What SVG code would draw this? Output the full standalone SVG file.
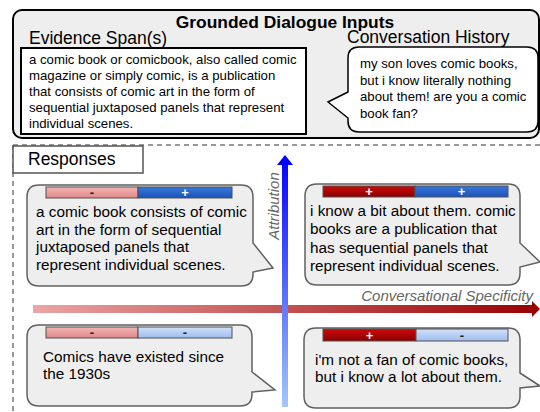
<svg xmlns="http://www.w3.org/2000/svg" width="540" height="412" viewBox="0 0 540 412">
<defs>
<linearGradient id="gLR" x1="0" y1="0" x2="0" y2="1"><stop offset="0" stop-color="#f4b4b4"/><stop offset="1" stop-color="#e08888"/></linearGradient>
<linearGradient id="gB" x1="0" y1="0" x2="0" y2="1"><stop offset="0" stop-color="#3a78dc"/><stop offset="1" stop-color="#1a52b8"/></linearGradient>
<linearGradient id="gDR" x1="0" y1="0" x2="0" y2="1"><stop offset="0" stop-color="#cc0a0a"/><stop offset="1" stop-color="#8c0000"/></linearGradient>
<linearGradient id="gLB" x1="0" y1="0" x2="0" y2="1"><stop offset="0" stop-color="#cfe0fa"/><stop offset="1" stop-color="#9fbdee"/></linearGradient>
<linearGradient id="gV" gradientUnits="userSpaceOnUse" x1="0" y1="155" x2="0" y2="407"><stop offset="0" stop-color="#0000ff"/><stop offset="1" stop-color="#a8c6f6"/></linearGradient>
<linearGradient id="gH" gradientUnits="userSpaceOnUse" x1="33" y1="0" x2="540" y2="0"><stop offset="0" stop-color="#eca4a4"/><stop offset="1" stop-color="#9a0000"/></linearGradient>
</defs>
<style>
text{font-family:"Liberation Sans",Arial,sans-serif;fill:#000}
.bub{fill:#eeeeee;stroke:#606060;stroke-width:1.5}
.bar{stroke:#505050;stroke-width:1}
.sg{font-size:13px;text-anchor:middle;font-weight:bold}
.w{fill:#ffffff}
.d{fill:#222}
.rt{font-size:15.3px}
.ax{font-size:15px;font-style:italic;fill:#666666}
.hd{font-size:17.5px}
</style>

<g id="inputs">
<rect x="13" y="10" width="526" height="128" rx="9" fill="#eeeeee" stroke="#000" stroke-width="2"/>
<text x="285" y="28" font-size="17.4" font-weight="bold" text-anchor="middle">Grounded Dialogue Inputs</text>
</g>

<g id="evidence">
<text class="hd" x="29" y="44">Evidence Span(s)</text>
<rect x="21" y="48" width="285" height="86" fill="#ffffff" stroke="#000" stroke-width="2"/>
<text font-size="13.2">
<tspan x="29" y="64">a comic book or comicbook, also called comic</tspan>
<tspan x="29" y="80">magazine or simply comic, is a publication</tspan>
<tspan x="29" y="96">that consists of comic art in the form of</tspan>
<tspan x="29" y="112">sequential juxtaposed panels that represent</tspan>
<tspan x="29" y="128">individual scenes.</tspan>
</text>
</g>

<g id="history">
<text class="hd" x="347" y="43">Conversation History</text>
<path d="M359,47 H527 Q538,47 538,58 V121 Q538,132 527,132 H359 Q348,132 348,121 V118 L328,102 L348,92 V58 Q348,47 359,47 Z" fill="#ffffff" stroke="#000" stroke-width="1.5"/>
<text font-size="13.2">
<tspan x="360" y="68">my son loves comic books,</tspan>
<tspan x="360" y="84.5">but i know literally nothing</tspan>
<tspan x="360" y="101">about them! are you a comic</tspan>
<tspan x="360" y="117.5">book fan?</tspan>
</text>
</g>

<g id="responses-area">
<path d="M13,145 H540 M13,145 V412" fill="none" stroke="#777" stroke-width="1.5" stroke-dasharray="5,4"/>
<rect x="13" y="146" width="130" height="27" fill="#ffffff" stroke="#555" stroke-width="1.5"/>
<text class="hd" x="28" y="165">Responses</text>
</g>

<g id="connectors">
<rect x="33" y="305" width="500" height="8" fill="url(#gH)"/>
<polygon points="532,301 540,309 532,317" fill="#9a0000"/>
<rect x="282" y="164" width="6" height="243" fill="url(#gV)"/>
<polygon points="277,165 285,155 293,165" fill="#0000ff"/>
<text class="ax" transform="translate(279,206) rotate(-90)" text-anchor="middle">Attribution</text>
<text class="ax" x="533" y="301" text-anchor="end">Conversational Specificity</text>
</g>

<g id="resp-tl">
<path class="bub" d="M39,185 H241 Q253,185 253,197 V243 L273,268 L253,272 V274 Q253,286 241,286 H39 Q27,286 27,274 V197 Q27,185 39,185 Z"/>
<rect class="bar" x="46" y="187" width="92" height="11" fill="url(#gLR)"/>
<rect class="bar" x="138" y="187" width="94" height="11" fill="url(#gB)"/>
<text class="sg d" x="92" y="197">-</text>
<text class="sg w" x="185" y="197">+</text>
<text class="rt">
<tspan x="36" y="217">a comic book consists of comic</tspan>
<tspan x="36" y="234.7">art in the form of sequential</tspan>
<tspan x="36" y="252.3">juxtaposed panels that</tspan>
<tspan x="36" y="270">represent individual scenes.</tspan>
</text>
</g>

<g id="resp-tr">
<path class="bub" d="M317,184 H508 Q520,184 520,196 V243 L540,262 L520,267 V273 Q520,285 508,285 H317 Q305,285 305,273 V196 Q305,184 317,184 Z"/>
<rect class="bar" x="323" y="186" width="92" height="11" fill="url(#gDR)"/>
<rect class="bar" x="415" y="186" width="93" height="11" fill="url(#gB)"/>
<text class="sg w" x="369" y="196">+</text>
<text class="sg w" x="461.5" y="196">+</text>
<text class="rt">
<tspan x="310" y="216">i know a bit about them. comic</tspan>
<tspan x="310" y="234">books are a publication that</tspan>
<tspan x="310" y="252.5">has sequential panels that</tspan>
<tspan x="310" y="271">represent individual scenes.</tspan>
</text>
</g>

<g id="resp-bl">
<path class="bub" d="M39,325 H240 Q252,325 252,337 V372 L275,390 L252,392 V394 Q252,406 240,406 H39 Q27,406 27,394 V337 Q27,325 39,325 Z"/>
<rect class="bar" x="46" y="327" width="92" height="11" fill="url(#gLR)"/>
<rect class="bar" x="138" y="327" width="94" height="11" fill="url(#gLB)"/>
<text class="sg d" x="92" y="337">-</text>
<text class="sg d" x="185" y="337">-</text>
<text class="rt">
<tspan x="43" y="362">Comics have existed since</tspan>
<tspan x="43" y="379">the 1930s</tspan>
</text>
</g>

<g id="resp-br">
<path class="bub" d="M316,328 H508 Q520,328 520,340 V373 L540,386 L520,388 V396 Q520,408 508,408 H316 Q304,408 304,396 V340 Q304,328 316,328 Z"/>
<rect class="bar" x="323" y="329" width="93" height="12" fill="url(#gDR)"/>
<rect class="bar" x="416" y="329" width="92" height="12" fill="url(#gLB)"/>
<text class="sg w" x="369.5" y="339.5">+</text>
<text class="sg d" x="462" y="340">-</text>
<text class="rt">
<tspan x="315" y="365">i'm not a fan of comic books,</tspan>
<tspan x="315" y="382">but i know a lot about them.</tspan>
</text>
</g>
</svg>
